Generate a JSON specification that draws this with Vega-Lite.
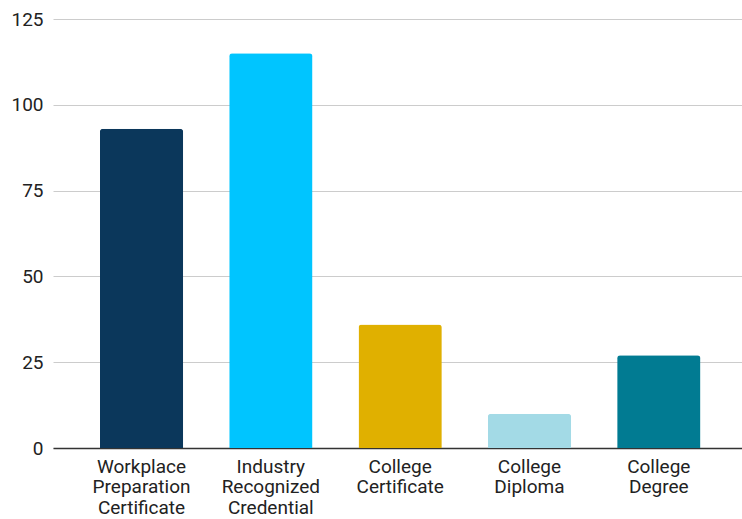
{
  "$schema": "https://vega.github.io/schema/vega-lite/v6.json",
  "width": 689,
  "height": 429,
  "autosize": {"type": "none"},
  "padding": {"left": 53, "top": 19, "right": 0, "bottom": 71},
  "background": "white",
  "config": {
    "view": {"stroke": null},
    "font": "Roboto"
  },
  "data": {
    "values": [
      {"credential": "Workplace Preparation Certificate", "count": 93},
      {"credential": "Industry Recognized Credential", "count": 115},
      {"credential": "College Certificate", "count": 36},
      {"credential": "College Diploma", "count": 10},
      {"credential": "College Degree", "count": 27}
    ]
  },
  "mark": {"type": "bar", "cornerRadiusTopLeft": 3, "cornerRadiusTopRight": 3},
  "encoding": {
    "x": {
      "field": "credential",
      "type": "nominal",
      "sort": null,
      "scale": {"paddingInner": 0.356, "paddingOuter": 0.342, "align": 0.53},
      "axis": {
        "title": null,
        "labelAngle": 0,
        "labelExpr": "split(datum.label, ' ')",
        "labelFont": "Roboto",
        "labelFontSize": 19,
        "labelColor": "#222222",
        "labelLineHeight": 20.5,
        "labelPadding": 9,
        "ticks": false,
        "domainColor": "#333333",
        "domainWidth": 1.5,
        "labelBaseline": "top"
      }
    },
    "y": {
      "field": "count",
      "type": "quantitative",
      "scale": {"domain": [0, 125]},
      "axis": {
        "title": null,
        "values": [0, 25, 50, 75, 100, 125],
        "domain": false,
        "ticks": false,
        "labelFont": "Roboto",
        "labelFontSize": 19,
        "labelColor": "#222222",
        "labelPadding": 10,
        "gridColor": "#cccccc",
        "gridWidth": 1
      }
    },
    "color": {
      "field": "credential",
      "type": "nominal",
      "legend": null,
      "scale": {
        "domain": ["Workplace Preparation Certificate", "Industry Recognized Credential", "College Certificate", "College Diploma", "College Degree"],
        "range": ["#0b375b", "#00c5ff", "#e0b000", "#a3dae6", "#017b92"]
      }
    }
  }
}
